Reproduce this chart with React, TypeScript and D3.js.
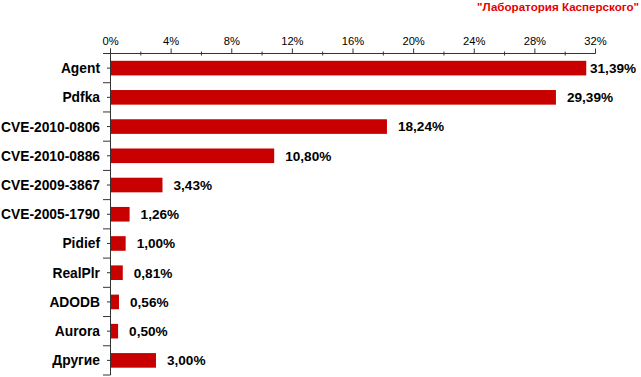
import React from "react";
import * as d3 from "d3";

const categories = ["Agent", "Pdfka", "CVE-2010-0806", "CVE-2010-0886", "CVE-2009-3867", "CVE-2005-1790", "Pidief", "RealPlr", "ADODB", "Aurora", "Другие"];
const values = [31.39, 29.39, 18.24, 10.8, 3.43, 1.26, 1.0, 0.81, 0.56, 0.5, 3.0];
const majorTicks = [0, 4, 8, 12, 16, 20, 24, 28, 32];
const minorTicks = [2, 6, 10, 14, 18, 22, 26, 30];
const title = "\"Лаборатория Касперского\"";

const W = 641;
const H = 377;
const FONT = "'Liberation Sans', Arial, sans-serif";
const AXIS = "#333333";
const BAR = "#c80000";

export default function App() {
  const top = 53.5;
  const bottom = 375;
  const x = d3.scaleLinear().domain([0, 32]).range([110.5, 595.5]);
  const y = d3
    .scaleBand<string>()
    .domain(categories)
    .range([top, bottom])
    .paddingInner(0.5)
    .paddingOuter(0.25);
  const step = y.step();
  const bw = y.bandwidth();
  const fmt = (v: number) => v.toFixed(2).replace(".", ",") + "%";
  const x0 = x(0);
  const labelX = (v: number) => Math.min(x(v) + 11, W - 51);

  return (
    <svg
      width={W}
      height={H}
      style={{ position: "absolute", left: 0, top: 0, background: "#fff" }}
      fontFamily={FONT}
    >
      <text x={639} y={11} textAnchor="end" fontSize={11.6} fontWeight="bold" fill="#e60000">
        {title}
      </text>

      {/* bars */}
      {categories.map((c, i) => (
        <rect key={c} x={x0} y={y(c)!} width={x(values[i]) - x0} height={bw} fill={BAR} />
      ))}

      {/* top axis */}
      <line x1={103} x2={x(32)} y1={top} y2={top} stroke={AXIS} strokeWidth={1} />
      {majorTicks.map((t) => (
        <g key={"M" + t}>
          <line x1={x(t)} x2={x(t)} y1={top - 5} y2={top} stroke={AXIS} />
          <text x={x(t)} y={44.5} textAnchor="middle" fontSize={11.2} fill="#000">
            {t + "%"}
          </text>
        </g>
      ))}
      {minorTicks.map((t) => (
        <line key={"m" + t} x1={x(t)} x2={x(t)} y1={top - 2} y2={top + 2} stroke={AXIS} />
      ))}

      {/* left axis */}
      <line x1={x0} x2={x0} y1={top - 5} y2={bottom} stroke={AXIS} />
      {d3.range(categories.length + 1).map((i) => (
        <line key={"b" + i} x1={103} x2={x0} y1={top + i * step} y2={top + i * step} stroke={AXIS} />
      ))}
      {categories.map((c) => (
        <line key={"c" + c} x1={107} x2={x0} y1={y(c)! + bw / 2} y2={y(c)! + bw / 2} stroke={AXIS} />
      ))}

      {/* category labels */}
      {categories.map((c) => (
        <text
          key={"l" + c}
          x={100}
          y={y(c)! + bw / 2}
          dy="0.36em"
          textAnchor="end"
          fontSize={13.8}
          fontWeight="bold"
          fill="#000"
        >
          {c}
        </text>
      ))}

      {/* value labels */}
      {categories.map((c, i) => (
        <text
          key={"v" + c}
          x={labelX(values[i])}
          y={y(c)! + bw / 2}
          dy="0.36em"
          fontSize={13.6}
          fontWeight="bold"
          fill="#000"
        >
          {fmt(values[i])}
        </text>
      ))}
    </svg>
  );
}
